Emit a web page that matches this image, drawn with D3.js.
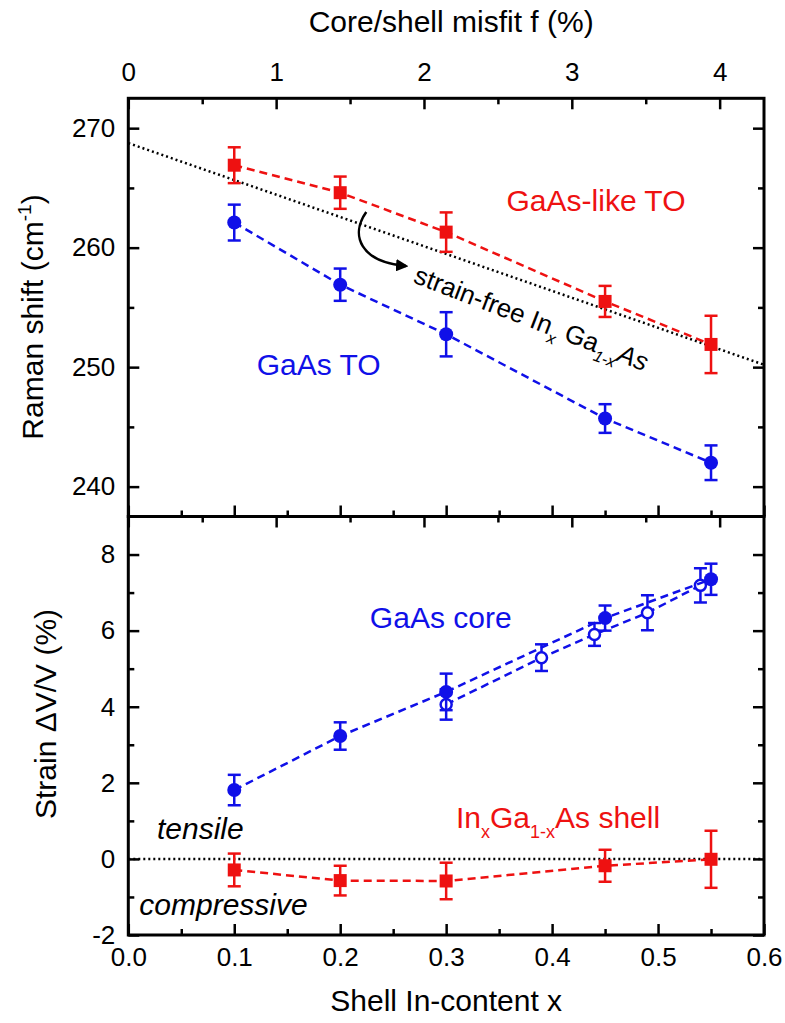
<!DOCTYPE html>
<html>

<head>
  <meta charset="utf-8">
  <title>Raman shift and strain vs shell In-content</title>
  <script type="text/javascript" src="https://cdn.jsdelivr.net/npm/d3@7"></script>
  <style type="text/css">
    body { margin: 0; background: #fff; }
    text { font-family: "Liberation Sans", Arial, sans-serif; }
  </style>
</head>

<body>
  <script type="text/javascript">

    // Shell In-content of the samples
    const xShell = [0.1, 0.2, 0.3, 0.45, 0.55];

    // Top panel: Raman shift (cm-1)
    const ramanGaAsLike = [266.9, 264.6, 261.3, 255.5, 251.9];
    const ramanGaAsLikeErr = [1.5, 1.35, 1.65, 1.3, 2.4];
    const ramanGaAs = [262.1, 256.9, 252.75, 245.7, 242.0];
    const ramanGaAsErr = [1.5, 1.35, 1.85, 1.2, 1.45];
    const strainFreeX = [0, 0.6];
    const strainFreeRaman = [268.75, 250.2];

    // Bottom panel: strain dV/V (%)
    const strainCore = [1.81, 3.23, 4.39, 6.33, 7.35];
    const strainCoreErr = [0.4, 0.36, 0.48, 0.33, 0.41];
    const xCoreOpen = [0.3, 0.39, 0.44, 0.49, 0.54];
    const strainCoreOpen = [4.06, 5.29, 5.9, 6.47, 7.19];
    const strainCoreOpenErr = [0.4, 0.35, 0.3, 0.46, 0.45];
    const strainShell = [-0.29, -0.57, -0.58, -0.18, -0.01];
    const strainShellErr = [0.43, 0.39, 0.48, 0.42, 0.75];

    // Ticks
    const xTicks = [0, 0.1, 0.2, 0.3, 0.4, 0.5, 0.6];
    const xMinor = [0.05, 0.15, 0.25, 0.35, 0.45, 0.55];
    const fTicks = [0, 1, 2, 3, 4];
    const fMinor = [0.5, 1.5, 2.5, 3.5];
    const ramanTicks = [240, 250, 260, 270];
    const ramanMinor = [245, 255, 265];
    const strainTicks = [-2, 0, 2, 4, 6, 8];
    const strainMinor = [-1, 1, 3, 5, 7];

    const w = 785;
    const h = 1023;
    const pLeft = 128.3, pRight = 764, pTop = 98.3, pMid = 516.5, pBottom = 935;

    const red = "#ee1111";
    const blue = "#1010e8";

    const x = d3.scaleLinear().domain([0, 0.6]).range([pLeft, pRight]);
    const f = d3.scaleLinear().domain([0, 4.3]).range([pLeft, pRight]);
    const yR = d3.scaleLinear().domain([237.5, 272.5]).range([pMid, pTop]);
    const yS = d3.scaleLinear().domain([-2, 9]).range([pBottom, pMid]);

    const svg = d3.select("body")
      .append("svg")
      .attr("width", w)
      .attr("height", h);

    svg.append("rect").attr("width", w).attr("height", h).attr("fill", "#fff");

    // axis helper: major + minor ticks, pointing inward
    function addAxis(axisFn, scale, tr, majors, minors, showLabels, pad, fmt) {
      const major = axisFn(scale).tickValues(majors).tickSize(-11).tickSizeOuter(0)
        .tickPadding(pad).tickFormat(showLabels ? fmt : "");
      const minor = axisFn(scale).tickValues(minors).tickSize(-6).tickSizeOuter(0).tickFormat("");
      const g1 = svg.append("g").attr("transform", tr).call(major);
      const g2 = svg.append("g").attr("transform", tr).call(minor);
      [g1, g2].forEach(function (g) {
        g.select(".domain").remove();
        g.selectAll("line").attr("stroke", "#000").attr("stroke-width", 2.5);
        g.selectAll("text").attr("fill", "#000").attr("font-size", 26)
          .attr("font-family", "Liberation Sans, Arial, sans-serif");
      });
    }

    const fmtX = d3.format(".1f");
    const fmtInt = function (d) { return String(d); };

    // top panel
    addAxis(d3.axisTop, f, `translate(0,${pTop})`, fTicks, fMinor, true, 17, fmtInt);
    addAxis(d3.axisBottom, x, `translate(0,${pMid})`, xTicks, xMinor, false, 0);
    addAxis(d3.axisLeft, yR, `translate(${pLeft},0)`, ramanTicks, ramanMinor, true, 13, fmtInt);
    addAxis(d3.axisRight, yR, `translate(${pRight},0)`, ramanTicks, ramanMinor, false, 0);

    // bottom panel
    addAxis(d3.axisTop, f, `translate(0,${pMid})`, fTicks, fMinor, false, 0);
    addAxis(d3.axisBottom, x, `translate(0,${pBottom})`, xTicks, xMinor, true, 13, fmtX);
    addAxis(d3.axisLeft, yS, `translate(${pLeft},0)`, strainTicks, strainMinor, true, 13, fmtInt);
    addAxis(d3.axisRight, yS, `translate(${pRight},0)`, strainTicks, strainMinor, false, 0);

    // frames
    [[pTop, pMid], [pMid, pBottom]].forEach(function (p) {
      svg.append("rect")
        .attr("x", pLeft).attr("y", p[0])
        .attr("width", pRight - pLeft).attr("height", p[1] - p[0])
        .attr("fill", "none").attr("stroke", "#000").attr("stroke-width", 3);
    });

    // dotted reference lines
    const dotted = d3.line().x(d => x(d[0])).y(d => d[1]);
    svg.append("path")
      .attr("d", dotted(strainFreeX.map((v, i) => [v, yR(strainFreeRaman[i])])))
      .attr("fill", "none").attr("stroke", "#000").attr("stroke-width", 2.5)
      .attr("stroke-dasharray", "2,3");
    svg.append("path")
      .attr("d", dotted([[0, yS(0)], [0.6, yS(0)]]))
      .attr("fill", "none").attr("stroke", "#000").attr("stroke-width", 2.5)
      .attr("stroke-dasharray", "2,3");

    // series drawing
    function drawSeries(xs, vals, errs, yScale, color, shape) {
      const pts = xs.map((v, i) => ({ x: v, y: vals[i], e: errs[i] }));
      const line = d3.line().x(d => x(d.x)).y(d => yScale(d.y));
      svg.append("path")
        .attr("d", line(pts))
        .attr("fill", "none").attr("stroke", color).attr("stroke-width", 2.5)
        .attr("stroke-dasharray", "8,5");

      const g = svg.append("g");
      const eb = g.selectAll(".eb").data(pts).enter().append("g");
      eb.append("line")
        .attr("x1", d => x(d.x)).attr("x2", d => x(d.x))
        .attr("y1", d => yScale(d.y - d.e)).attr("y2", d => yScale(d.y + d.e));
      eb.append("line")
        .attr("x1", d => x(d.x) - 6.5).attr("x2", d => x(d.x) + 6.5)
        .attr("y1", d => yScale(d.y - d.e)).attr("y2", d => yScale(d.y - d.e));
      eb.append("line")
        .attr("x1", d => x(d.x) - 6.5).attr("x2", d => x(d.x) + 6.5)
        .attr("y1", d => yScale(d.y + d.e)).attr("y2", d => yScale(d.y + d.e));
      eb.selectAll("line").attr("stroke", color).attr("stroke-width", 2.5);

      if (shape === "square") {
        g.selectAll(".m").data(pts).enter().append("rect")
          .attr("x", d => x(d.x) - 6.5).attr("y", d => yScale(d.y) - 6.5)
          .attr("width", 13).attr("height", 13).attr("fill", color);
      } else if (shape === "circle") {
        g.selectAll(".m").data(pts).enter().append("circle")
          .attr("cx", d => x(d.x)).attr("cy", d => yScale(d.y))
          .attr("r", 7).attr("fill", color);
      } else {
        g.selectAll(".m").data(pts).enter().append("circle")
          .attr("cx", d => x(d.x)).attr("cy", d => yScale(d.y))
          .attr("r", 5.5).attr("fill", "#fff")
          .attr("stroke", color).attr("stroke-width", 2.5);
      }
    }

    drawSeries(xShell, ramanGaAsLike, ramanGaAsLikeErr, yR, red, "square");
    drawSeries(xShell, ramanGaAs, ramanGaAsErr, yR, blue, "circle");
    drawSeries(xShell, strainShell, strainShellErr, yS, red, "square");
    drawSeries(xCoreOpen, strainCoreOpen, strainCoreOpenErr, yS, blue, "open");
    drawSeries(xShell, strainCore, strainCoreErr, yS, blue, "circle");

    // annotations
    function label(tx, ty, color, italic) {
      return svg.append("text")
        .attr("x", tx).attr("y", ty)
        .attr("fill", color).attr("font-size", 30)
        .attr("font-style", italic ? "italic" : "normal");
    }
    label(x(0.357), yR(263.03), red).text("GaAs-like TO");
    label(x(0.1212), yR(249.35), blue).text("GaAs TO");
    label(x(0.228), yS(6.08), blue).text("GaAs core");
    const shell = label(x(0.3093), yS(0.813), red);
    shell.append("tspan").text("In");
    shell.append("tspan").attr("font-size", 18).attr("dy", 10).text("x");
    shell.append("tspan").attr("dy", -10).text("Ga");
    shell.append("tspan").attr("font-size", 18).attr("dy", 10).text("1-x");
    shell.append("tspan").attr("dy", -10).text("As shell");
    label(x(0.0271), yS(0.524), "#000", true).text("tensile");
    label(x(0.0104), yS(-1.47), "#000", true).text("compressive");

    // strain-free label along the dotted line
    const sf = svg.append("text")
      .attr("transform", `translate(${x(0.268)},${yR(257.1)}) rotate(21)`)
      .attr("font-size", 26).attr("fill", "#000");
    sf.append("tspan").text("strain-free In");
    sf.append("tspan").attr("font-size", 16).attr("dy", 8).attr("font-style", "italic").text("x");
    sf.append("tspan").attr("dy", -8).text(" Ga");
    sf.append("tspan").attr("font-size", 16).attr("dy", 8).attr("font-style", "italic").text("1-x");
    sf.append("tspan").attr("dy", -8).attr("font-style", "italic").text("As");

    // curved arrow
    svg.append("defs").append("marker")
      .attr("id", "head").attr("viewBox", "0 0 10 10")
      .attr("refX", 8).attr("refY", 5)
      .attr("markerWidth", 5).attr("markerHeight", 5)
      .attr("orient", "auto")
      .append("path").attr("d", "M0,0L10,5L0,10z").attr("fill", "#000");
    const arrowPath = d3.path();
    arrowPath.moveTo(x(0.2246), yR(262.99));
    arrowPath.bezierCurveTo(x(0.2092), yR(261.06), x(0.2187), yR(258.8), x(0.2621), yR(258.46));
    svg.append("path")
      .attr("d", arrowPath.toString())
      .attr("fill", "none").attr("stroke", "#000").attr("stroke-width", 2.5)
      .attr("marker-end", "url(#head)");

    // axis titles
    svg.append("text")
      .attr("x", (pLeft + pRight) / 2 + 5).attr("y", 32)
      .attr("text-anchor", "middle").attr("font-size", 30)
      .text("Core/shell misfit f (%)");
    svg.append("text")
      .attr("x", (pLeft + pRight) / 2).attr("y", 1011)
      .attr("text-anchor", "middle").attr("font-size", 30)
      .text("Shell In-content x");
    const ry = svg.append("text")
      .attr("transform", `translate(43,317) rotate(-90)`)
      .attr("text-anchor", "middle").attr("font-size", 30);
    ry.append("tspan").text("Raman shift (cm");
    ry.append("tspan").attr("font-size", 19).attr("dy", -12).text("-1");
    ry.append("tspan").attr("dy", 12).text(")");
    svg.append("text")
      .attr("transform", `translate(56,714) rotate(-90)`)
      .attr("text-anchor", "middle").attr("font-size", 30)
      .text("Strain \u0394V/V (%)");

  </script>
</body>

</html>
